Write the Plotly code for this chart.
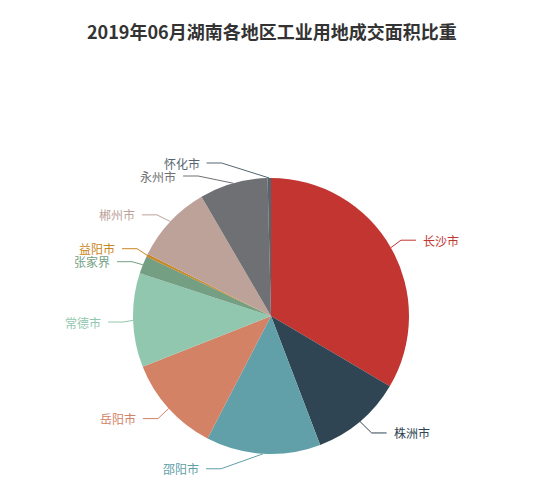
import math
import plotly.graph_objects as go

# data (share of industrial land transaction area, %)
cities = ["长沙市", "株洲市", "邵阳市", "岳阳市", "常德市",
          "张家界", "益阳市", "郴州市", "永州市", "怀化市"]
shares = [33.5, 10.7, 13.4, 11.4, 11.0, 2.1, 0.3, 9.2, 8.0, 0.4]
colors = ["#c23531", "#2f4554", "#61a0a8", "#d48265", "#91c7ae",
          "#749f83", "#ca8622", "#bda29a", "#6e7074", "#546570"]

# page body keeps its default 8px margin, so the figure sits 8px in
PAGE = 8
W, H = 550 - 2 * PAGE, 490 - 2 * PAGE
cx, cy, r = 271 - PAGE, 316 - PAGE, 138
len1, len2, gap, text_h = 15, 15, 5, 13


def px(x):
    return x / W


def py(y):
    return 1 - y / H


# natural label positions, echarts style
total = sum(shares)
labels = []
acc = 0
for name, v, c in zip(cities, shares, colors):
    mid = (acc + v / 2) / total * 2 * math.pi
    acc += v
    dx, dy = math.sin(mid), -math.cos(mid)
    x1, y1 = cx + dx * r, cy + dy * r
    x2, y2 = cx + dx * (r + len1), cy + dy * (r + len1)
    side = -1 if dx < 0 else 1
    labels.append(dict(name=name, color=c, x1=x1, y1=y1, x=x2 + side * len2,
                       y=y2, side=side))


def adjust(lst, side):
    # push overlapping labels apart, then slide them along the label circle
    lst.sort(key=lambda a: a["y"])
    n = len(lst)

    def shift_up(end, delta):
        for j in range(end, -1, -1):
            lst[j]["y"] -= delta
            if j > 0 and lst[j]["y"] > lst[j - 1]["y"] + text_h:
                break

    def shift_down(start, delta):
        for j in range(start, n):
            lst[j]["y"] += delta
            if j > start and j + 1 < n and lst[j + 1]["y"] > lst[j]["y"] + text_h:
                shift_up(j, delta / 2)
                return
        shift_up(n - 1, delta / 2)

    last = 0
    for i in range(n):
        d = lst[i]["y"] - last
        if d < 0:
            shift_down(i, -d)
        last = lst[i]["y"] + text_h

    R = r + len1 + len2
    for down in (False, True):
        sub = [a for a in lst if (a["y"] >= cy) == down]
        last_dx = 1e9 if down else 0
        for a in sub:
            dyy = abs(a["y"] - cy)
            ddx = math.sqrt(R * R - dyy * dyy) if dyy < r + len1 else abs(a["x"] - cx)
            if down and ddx >= last_dx:
                ddx = last_dx - 10
            if not down and ddx <= last_dx:
                ddx = last_dx + 10
            a["x"] = cx + ddx * side
            last_dx = ddx


adjust([a for a in labels if a["side"] < 0], -1)
adjust([a for a in labels if a["side"] > 0], 1)

fig = go.Figure(go.Pie(
    labels=cities,
    values=shares,
    sort=False,
    direction="clockwise",
    rotation=0,
    marker=dict(colors=colors, line=dict(width=0)),
    textinfo="none",
    hoverinfo="label+percent",
    domain=dict(x=[px(cx - r), px(cx + r)], y=[py(cy + r), py(cy - r)]),
    showlegend=False,
))

shapes = []
annotations = []
for a in labels:
    s = a["side"]
    xe = a["x"] - s * gap
    xb = xe - s * len2
    path = "M {} {} L {} {} L {} {}".format(
        px(a["x1"]), py(a["y1"]), px(xb), py(a["y"]), px(xe), py(a["y"]))
    shapes.append(dict(type="path", xref="paper", yref="paper", path=path,
                       line=dict(color=a["color"], width=1)))
    annotations.append(dict(
        x=px(a["x"]), y=py(a["y"]), xref="paper", yref="paper",
        text=a["name"], showarrow=False,
        xanchor="right" if s < 0 else "left", yanchor="middle",
        font=dict(size=12, color=a["color"], family="Noto Sans CJK SC"),
    ))

annotations.append(dict(
    x=px(272 - PAGE), y=py(31 - PAGE), xref="paper", yref="paper",
    text="<b>2019年06月湖南各地区工业用地成交面积比重</b>", showarrow=False,
    xanchor="center", yanchor="middle",
    font=dict(size=18, color="#333333", family="Noto Sans CJK SC"),
))

fig.update_layout(
    width=W, height=H,
    margin=dict(l=0, r=0, t=0, b=0),
    paper_bgcolor="white",
    plot_bgcolor="white",
    shapes=shapes,
    annotations=annotations,
)

fig.write_html("out.html")
